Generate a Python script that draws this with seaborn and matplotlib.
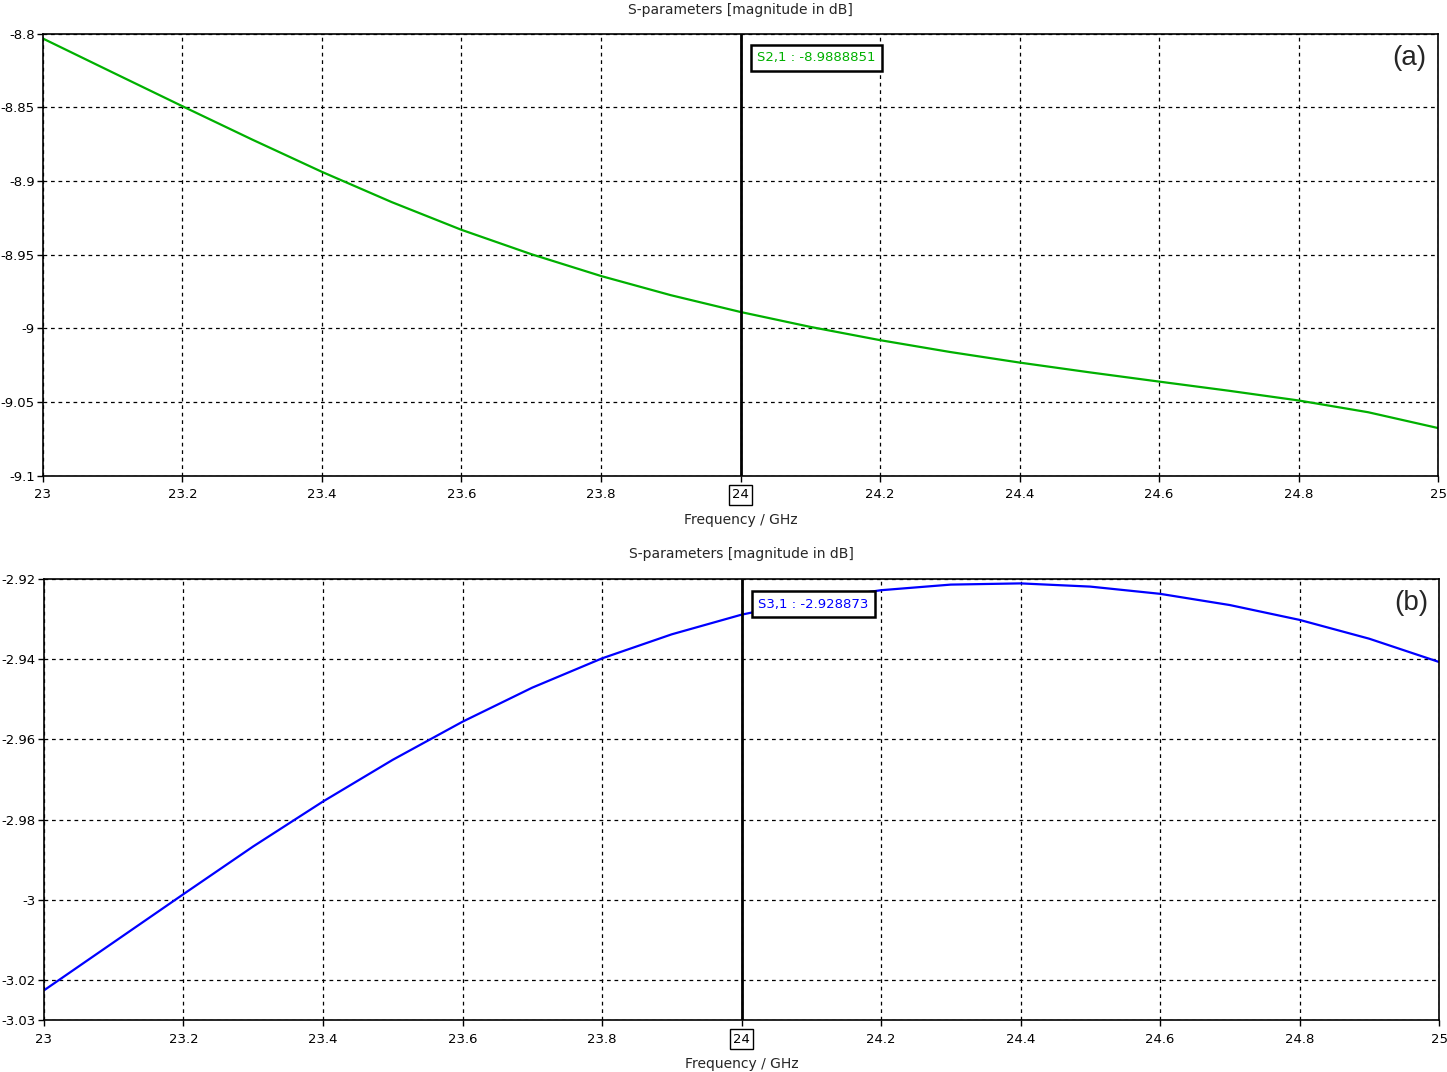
import matplotlib
matplotlib.use("Agg")
import numpy as np
import pandas as pd
import matplotlib.pyplot as plt
import seaborn as sns

# frequency points (GHz)
freq = [23.0, 23.1, 23.2, 23.3, 23.4, 23.5, 23.6, 23.7, 23.8, 23.9, 24.0,
        24.1, 24.2, 24.3, 24.4, 24.5, 24.6, 24.7, 24.8, 24.9, 25.0]

# S2,1 magnitude in dB
s21 = [-8.8034, -8.8264, -8.8493, -8.8719, -8.8938, -8.9143, -8.9331,
       -8.9496, -8.9644, -8.9774, -8.9888, -8.9989, -9.0079, -9.0159,
       -9.0231, -9.0297, -9.0360, -9.0422, -9.0488, -9.0568, -9.0675]

# S3,1 magnitude in dB
s31 = [-3.0226, -3.0106, -2.9986, -2.9867, -2.9755, -2.9651, -2.9556,
       -2.9471, -2.9398, -2.9338, -2.9289, -2.9253, -2.9228, -2.9214,
       -2.9211, -2.9219, -2.9237, -2.9265, -2.9302, -2.9349, -2.9407]

xticks = [23, 23.2, 23.4, 23.6, 23.8, 24, 24.2, 24.4, 24.6, 24.8, 25]
xtick_labels = ['23', '23.2', '23.4', '23.6', '23.8', '24',
                '24.2', '24.4', '24.6', '24.8', '25']

yticks_a = [-8.8, -8.85, -8.9, -8.95, -9.0, -9.05, -9.1]
ytick_labels_a = ['-8.8', '-8.85', '-8.9', '-8.95', '-9', '-9.05', '-9.1']
yticks_b = [-2.92, -2.94, -2.96, -2.98, -3.0, -3.02, -3.03]
ytick_labels_b = ['-2.92', '-2.94', '-2.96', '-2.98', '-3', '-3.02', '-3.03']

marker_freq = 24.0
marker_a = 'S2,1 : -8.9888851'
marker_b = 'S3,1 : -2.928873'

sns.set_style('white')
plt.rcParams['font.family'] = ['DejaVu Sans']

fig = plt.figure(figsize=(14.47, 10.72), dpi=100)
ax_a = fig.add_axes([0.0297, 0.556, 0.9641, 0.4127])
ax_b = fig.add_axes([0.0304, 0.0485, 0.9641, 0.4114])

df = pd.DataFrame({'freq': freq, 's21': s21, 's31': s31})


def style_axis(ax, ylim, yticks, ylabels, label, marker_text, color, box_xy,
               title_pad):
    ax.set_xlim(23, 25)
    ax.set_ylim(*ylim)
    ax.set_xticks(xticks)
    ax.set_xticklabels(xtick_labels, fontsize=9.5)
    ax.set_yticks(yticks)
    ax.set_yticklabels(ylabels, fontsize=9.5)
    ax.tick_params(direction='out', length=4, width=1, colors='black',
                   bottom=True, left=True)
    ax.tick_params(axis='y', pad=2)
    ax.tick_params(axis='x', pad=5)
    ax.grid(True, color='black', linestyle=(0, (3, 3)), linewidth=0.9)
    for sp in ax.spines.values():
        sp.set_color('black')
        sp.set_linewidth(1.2)
    ax.set_xlabel('Frequency / GHz', fontsize=10, labelpad=8)
    ax.set_ylabel('')
    ax.set_title('S-parameters [magnitude in dB]', fontsize=10, pad=title_pad)

    # marker line + boxed tick label
    ax.axvline(marker_freq, color='black', linewidth=2, zorder=4)
    for t in ax.get_xticklabels():
        if t.get_text() == '24':
            t.set_bbox(dict(facecolor='white', edgecolor='black',
                            linewidth=1, pad=2.5))

    ax.text(box_xy[0], box_xy[1], marker_text, color=color, fontsize=9.5,
            transform=ax.transAxes, ha='left', va='center', zorder=6,
            bbox=dict(facecolor='white', edgecolor='black', linewidth=1.8,
                      boxstyle='square,pad=0.5'))
    ax.text(0.992, 0.945, label, fontsize=20, transform=ax.transAxes,
            ha='right', va='center', family=['Liberation Sans', 'DejaVu Sans'])


sns.lineplot(data=df, x='freq', y='s21', ax=ax_a, color='#00b000',
             linewidth=1.6)
style_axis(ax_a, (-9.1, -8.8), yticks_a, ytick_labels_a, '(a)',
           marker_a, '#00b000', (0.512, 0.945), 14)

sns.lineplot(data=df, x='freq', y='s31', ax=ax_b, color='#0000ff',
             linewidth=1.6)
style_axis(ax_b, (-3.03, -2.92), yticks_b, ytick_labels_b, '(b)',
           marker_b, '#0000ff', (0.512, 0.943), 15)

fig.savefig('out.png', dpi=100)
